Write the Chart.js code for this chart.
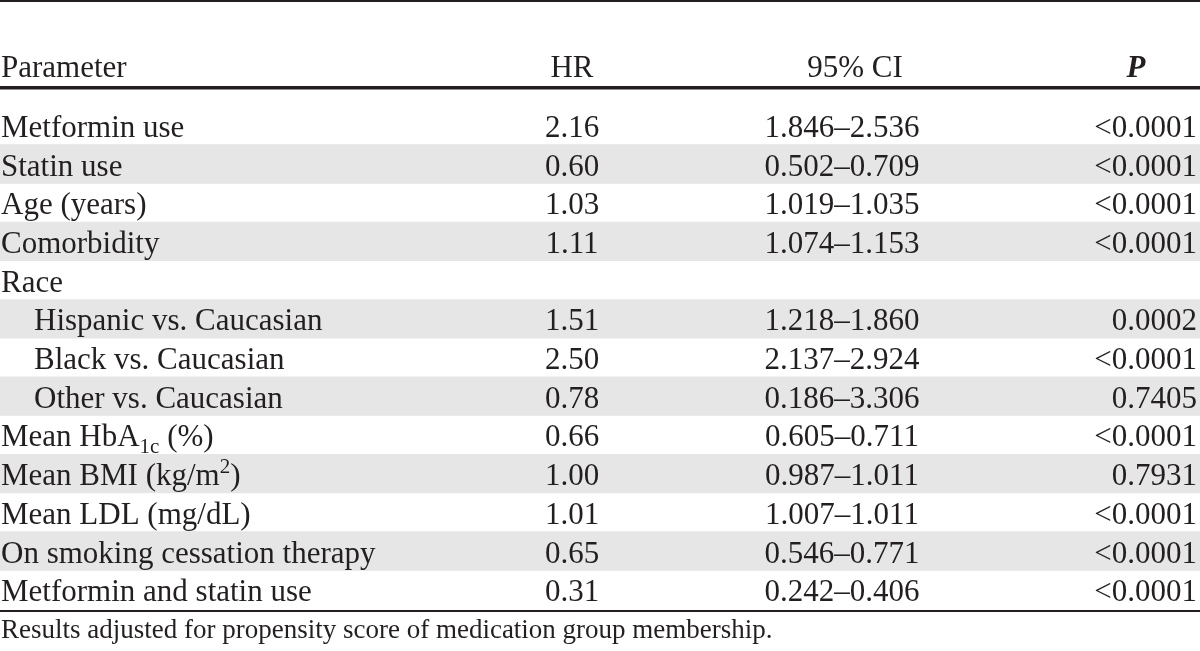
<!DOCTYPE html>
<html>
<head>
<meta charset="utf-8">
<script src="https://cdn.jsdelivr.net/npm/chart.js@4.4.1/dist/chart.umd.min.js"></script>
<style>
  html, body { margin: 0; padding: 0; background: #ffffff; }
  #wrap { width: 1200px; height: 651px; position: relative; }
</style>
</head>
<body>
<div id="wrap"><canvas id="c"></canvas></div>
<script>
const columnHeaders = ["Parameter", "HR", "95% CI", "P"];
const parameters = [
  "Metformin use",
  "Statin use",
  "Age (years)",
  "Comorbidity",
  "Race",
  "Hispanic vs. Caucasian",
  "Black vs. Caucasian",
  "Other vs. Caucasian",
  "Mean HbA_{1c} (%)",
  "Mean BMI (kg/m^{2})",
  "Mean LDL (mg/dL)",
  "On smoking cessation therapy",
  "Metformin and statin use"
];
const subgroupOf = [null, null, null, null, null, "Race", "Race", "Race", null, null, null, null, null];
const hazardRatios = [2.16, 0.60, 1.03, 1.11, null, 1.51, 2.50, 0.78, 0.66, 1.00, 1.01, 0.65, 0.31];
const ciLower = [1.846, 0.502, 1.019, 1.074, null, 1.218, 2.137, 0.186, 0.605, 0.987, 1.007, 0.546, 0.242];
const ciUpper = [2.536, 0.709, 1.035, 1.153, null, 1.860, 2.924, 3.306, 0.711, 1.011, 1.011, 0.771, 0.406];
const pValues = ["<0.0001", "<0.0001", "<0.0001", "<0.0001", "", "0.0002", "<0.0001", "0.7405", "<0.0001", "0.7931", "<0.0001", "<0.0001", "<0.0001"];
const footnote = "Results adjusted for propensity score of medication group membership.";

// ---- Style / layout ----
const FONT = "'Liberation Serif', 'Times New Roman', serif";
const FS = 31;
const TEXT = "#231f20";
const SHADE = "#e6e6e6";
const COL = { param: 1, indent: 33, hrCenter: 572, ciCenter: 842, ciHeadCenter: 855, pHeadCenter: 1136, pRight: 1197 };

function drawRich(ctx, str, x, y, align, size, weight, style) {
  const segs = [];
  const re = /(_\{[^}]*\}|\^\{[^}]*\})/g;
  let last = 0, m;
  while ((m = re.exec(str)) !== null) {
    if (m.index > last) segs.push({ t: str.slice(last, m.index), k: 'n' });
    segs.push({ t: m[0].slice(2, -1), k: m[0][0] === '_' ? 'sub' : 'sup' });
    last = m.index + m[0].length;
  }
  if (last < str.length) segs.push({ t: str.slice(last), k: 'n' });
  const fontFor = k => `${style || 'normal'} ${weight || 'normal'} ${k === 'n' ? size : Math.round(size * 0.68)}px ${FONT}`;
  let total = 0;
  segs.forEach(s => { ctx.font = fontFor(s.k); s.w = ctx.measureText(s.t).width; total += s.w; });
  let cx = align === 'center' ? x - total / 2 : align === 'right' ? x - total : x;
  ctx.textAlign = 'left';
  ctx.textBaseline = 'alphabetic';
  segs.forEach(s => {
    ctx.font = fontFor(s.k);
    const dy = s.k === 'sub' ? size * 0.2 : s.k === 'sup' ? -size * 0.38 : 0;
    ctx.fillText(s.t, cx, y + dy);
    cx += s.w;
  });
}

const tablePlugin = {
  id: 'tableText',
  afterDatasetsDraw(chart) {
    const ctx = chart.ctx;
    const area = chart.chartArea;
    const yScale = chart.scales.y;
    const rowH = (area.bottom - area.top) / parameters.length;
    ctx.save();
    ctx.fillStyle = TEXT;
    ctx.strokeStyle = TEXT;

    // rules
    ctx.fillRect(0, 0, chart.width, 2);
    ctx.fillRect(0, area.top - 20, chart.width, 3.5);
    ctx.fillRect(0, area.bottom + 1, chart.width, 2);

    // header
    const hy = area.top - 29;
    drawRich(ctx, columnHeaders[0], COL.param, hy, 'left', FS);
    drawRich(ctx, columnHeaders[1], COL.hrCenter, hy, 'center', FS);
    drawRich(ctx, columnHeaders[2], COL.ciHeadCenter, hy, 'center', FS);
    drawRich(ctx, columnHeaders[3], COL.pHeadCenter, hy, 'center', FS, 'bold', 'italic');

    // body rows
    parameters.forEach((p, i) => {
      const cy = yScale.getPixelForValue(i);
      const by = cy + rowH * 0.30;
      const x = subgroupOf[i] ? COL.param + COL.indent : COL.param;
      drawRich(ctx, p, x, by, 'left', FS);
      if (hazardRatios[i] !== null) {
        drawRich(ctx, hazardRatios[i].toFixed(2), COL.hrCenter, by, 'center', FS);
        drawRich(ctx, ciLower[i].toFixed(3) + "\u2013" + ciUpper[i].toFixed(3), COL.ciCenter, by, 'center', FS);
      }
      if (pValues[i]) drawRich(ctx, pValues[i], COL.pRight, by, 'right', FS);
    });

    // footnote
    drawRich(ctx, footnote, COL.param, area.bottom + 29, 'left', 27);
    ctx.restore();
  }
};

const shading = parameters.map((_, i) => (i % 2 === 1 ? 1 : null));

new Chart(document.getElementById('c'), {
  type: 'bar',
  data: {
    labels: parameters,
    datasets: [{
      label: 'row band',
      data: shading,
      backgroundColor: SHADE,
      borderWidth: 0,
      barPercentage: 1.0,
      categoryPercentage: 1.0
    }]
  },
  options: {
    indexAxis: 'y',
    responsive: true,
    maintainAspectRatio: false,
    animation: false,
    events: [],
    layout: { padding: { top: 106, bottom: 42, left: 0, right: 0 } },
    scales: {
      x: { display: false, min: 0, max: 1, grid: { display: false } },
      y: { display: false, offset: true, grid: { display: false } }
    },
    plugins: { legend: { display: false }, tooltip: { enabled: false } }
  },
  plugins: [tablePlugin]
});
</script>
</body>
</html>
